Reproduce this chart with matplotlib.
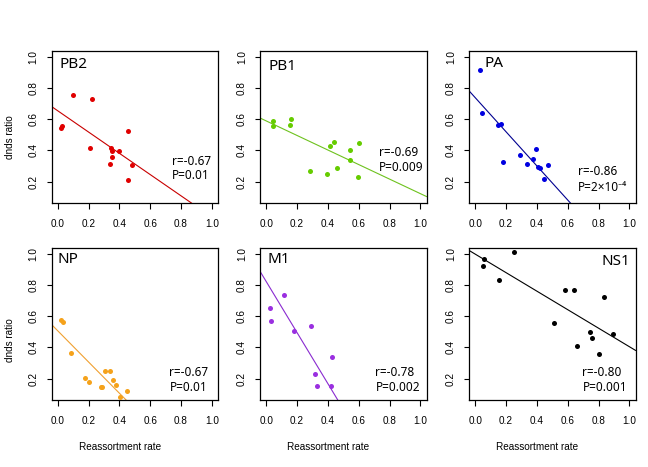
import matplotlib
matplotlib.use("Agg")
import matplotlib.pyplot as plt

# data (reassortment rate vs dnds ratio)
pb2_x = [0.100, 0.224, 0.020, 0.029, 0.208, 0.347, 0.353, 0.398, 0.353, 0.338, 0.455, 0.483, 0.455]
pb2_y = [0.756, 0.728, 0.544, 0.556, 0.416, 0.414, 0.395, 0.397, 0.359, 0.314, 0.527, 0.304, 0.212]

pb1_x = [0.046, 0.046, 0.163, 0.157, 0.286, 0.394, 0.416, 0.442, 0.461, 0.545, 0.541, 0.599, 0.597]
pb1_y = [0.591, 0.559, 0.602, 0.565, 0.270, 0.251, 0.431, 0.456, 0.290, 0.405, 0.341, 0.450, 0.228]

pa_x = [0.031, 0.044, 0.148, 0.170, 0.182, 0.290, 0.336, 0.375, 0.394, 0.405, 0.418, 0.472, 0.446]
pa_y = [0.917, 0.641, 0.564, 0.570, 0.326, 0.371, 0.313, 0.346, 0.410, 0.296, 0.288, 0.307, 0.219]

np_x = [0.020, 0.035, 0.085, 0.178, 0.204, 0.279, 0.290, 0.307, 0.337, 0.359, 0.378, 0.402, 0.449]
np_y = [0.577, 0.564, 0.362, 0.206, 0.177, 0.149, 0.149, 0.247, 0.247, 0.194, 0.160, 0.085, 0.119]

m1_x = [0.025, 0.031, 0.118, 0.182, 0.288, 0.316, 0.331, 0.420, 0.427]
m1_y = [0.652, 0.568, 0.735, 0.504, 0.536, 0.230, 0.151, 0.151, 0.337]

ns1_x = [0.051, 0.057, 0.157, 0.252, 0.511, 0.582, 0.642, 0.660, 0.744, 0.757, 0.802, 0.835, 0.893]
ns1_y = [0.922, 0.966, 0.833, 1.011, 0.559, 0.765, 0.769, 0.412, 0.501, 0.463, 0.357, 0.724, 0.489]

# fitted lines (intercept, slope) as drawn in the reference
fits = {"PB2": (0.654, -0.680), "PB1": (0.589, -0.465), "PA": (0.738, -1.091),
        "NP": (0.507, -0.998), "M1": (0.822, -1.632), "NS1": (0.997, -0.592)}

stats_r = {"PB2": "r=-0.67", "PB1": "r=-0.69", "PA": "r=-0.86",
           "NP": "r=-0.67", "M1": "r=-0.78", "NS1": "r=-0.80"}
stats_p = {"PB2": "P=0.01", "PB1": "P=0.009", "PA": "P=2×10⁻⁴",
           "NP": "P=0.01", "M1": "P=0.002", "NS1": "P=0.001"}

names = ["PB2", "PB1", "PA", "NP", "M1", "NS1"]
xs = [pb2_x, pb1_x, pa_x, np_x, m1_x, ns1_x]
ys = [pb2_y, pb1_y, pa_y, np_y, m1_y, ns1_y]
pt_colors = ["#E00000", "#66CC00", "#0000E0", "#F5A21B", "#9A2FE0", "#000000"]
ln_colors = ["#C80000", "#6EC21E", "#000090", "#F0A030", "#8A2BD0", "#000000"]

# label / stats text placement (data coords)
name_pos = {"PB2": (0.01, 0.947, "left"), "PB1": (0.014, 0.939, "left"),
            "PA": (0.062, 0.954, "left"), "NP": (0.0, 0.962, "left"),
            "M1": (0.008, 0.96, "left"), "NS1": (1.007, 0.95, "right")}
stat_pos = {"PB2": (0.744, 0.331, 0.240), "PB1": (0.731, 0.384, 0.290),
            "PA": (0.664, 0.264, 0.161), "NP": (0.725, 0.243, 0.143),
            "M1": (0.709, 0.239, 0.142), "NS1": (0.696, 0.238, 0.143)}

W, H = 648, 467
fig = plt.figure(figsize=(W / 100, H / 100), dpi=100)

lefts = [51.5, 260, 469]
bottoms = [203, 400]
pw, ph = 166.5, 152

txt_font = ["Noto Sans", "DejaVu Sans"]
tick_font = "Liberation Sans"

for i, name in enumerate(names):
    row, col = divmod(i, 3)
    ax = fig.add_axes([lefts[col] / W, (H - bottoms[row]) / H, pw / W, ph / H])
    ax.scatter(xs[i], ys[i], s=13, color=pt_colors[i], linewidths=0, zorder=3)
    b0, b1 = fits[name]
    ax.axline((0, b0), slope=b1, color=ln_colors[i], lw=0.8, zorder=2)

    ax.set_xlim(-0.04, 1.04)
    ax.set_ylim(0.064, 1.036)
    ax.set_xticks([0, 0.2, 0.4, 0.6, 0.8, 1.0])
    ax.set_xticklabels(["0.0", "0.2", "0.4", "0.6", "0.8", "1.0"], fontfamily=tick_font)
    ax.set_yticks([0.2, 0.4, 0.6, 0.8, 1.0])
    ax.set_yticklabels(["0.2", "0.4", "0.6", "0.8", "1.0"], fontfamily=tick_font,
                       rotation=90, va="center")
    ax.tick_params(axis="x", length=4.3, width=0.8, pad=7, labelsize=7.2)
    ax.tick_params(axis="y", length=3.8, width=0.8, pad=5.5, labelsize=7.2)
    for sp in ax.spines.values():
        sp.set_linewidth(0.9)

    nx, ny, nha = name_pos[name]
    ax.text(nx, ny, name, fontsize=11, ha=nha, va="center", family=txt_font)
    sx, sy1, sy2 = stat_pos[name]
    ax.text(sx, sy1, stats_r[name], fontsize=8.5, ha="left", va="center", family=txt_font)
    ax.text(sx, sy2, stats_p[name], fontsize=8.5, ha="left", va="center", family=txt_font)

    if row == 1:
        ax.text(0.41, -0.307, "Reassortment rate", transform=ax.transAxes,
                fontsize=7.2, ha="center", va="center", family=tick_font)
    if col == 0:
        ax.text(-0.247, 0.432 if row == 0 else 0.393, "dnds ratio", transform=ax.transAxes,
                fontsize=7.2, ha="center", va="center", rotation=90, family=tick_font)

fig.savefig("out.png", dpi=100)
